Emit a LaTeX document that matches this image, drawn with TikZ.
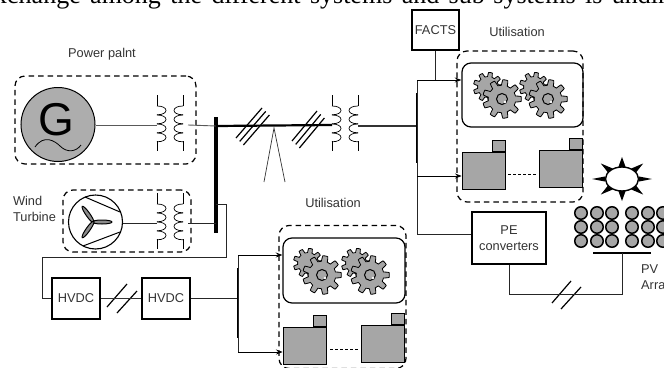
\documentclass[tikz,border=0pt]{standalone}
\usepackage{fontspec}
\setmainfont{Liberation Sans}
\newfontfamily\bodyserif{Liberation Serif}
\usetikzlibrary{shapes.geometric,arrows.meta,positioning,calc}

\begin{document}
\begin{tikzpicture}[
  x=1pt, y=-1pt,
  lbl/.style={font=\fontsize{12.8}{15.5}\selectfont, align=left, text=black!80, inner sep=0pt},
  group/.style={draw, dashed, dash pattern=on 5.5pt off 4pt, line width=1.2pt, rounded corners=10pt, inner sep=0pt},
  cogs/.style={draw, line width=1.2pt, rounded corners=9pt, inner sep=0pt},
  block/.style={draw, line width=1.1pt, font=\fontsize{12.8}{15.5}\selectfont, text=black!80, align=center, inner sep=0pt},
  loadbox/.style={draw, fill=black!35, line width=0.7pt, inner sep=0pt},
  busbar/.style={fill=black, inner sep=0pt, minimum width=#1},
  pvcell/.style={circle, draw, fill=black!35, line width=1.5pt, minimum size=12.5pt, inner sep=0pt},
  blade/.style={ellipse, draw, fill=black!45, line width=1pt, minimum width=20pt, minimum height=4pt, inner sep=0pt},
  wire/.style={line width=0.8pt, black!85},
  msg/.style={->, >=Stealth, line width=0.8pt},
  hatch/.style={line width=1.2pt},
  xformer/.pic={
    \coordinate (-in) at (-13,0);
    \coordinate (-out) at (18,0);
    \foreach \s/\c in {-13/12, 13/-12} {
      \draw[line width=0.7pt] (\s,-30) -- (\s,-19);
      \draw[line width=0.7pt] (\s,16) -- (\s,26);
      \foreach \k in {-19,-10,-1,8}
        \draw[line width=0.7pt] (\s,\k) .. controls (\s+\c,\k) and (\s+\c,\k+8.8) .. (\s,\k+8.8);
    }
  },
  gearwheel/.pic={
    \draw[fill=black!35, line width=0.8pt] plot[domain=0:360, samples=145] (\x:{#1+0.17*#1*min(1,max(-1,2.5*cos(9*\x)))}) -- cycle;
  },
  gearpair/.pic={
    \pic at (-14,-12) {gearwheel=12.5};
    \pic at (0,0) {gearwheel=16.5};
    \draw[fill=black!35, line width=1pt] (0,0) circle (5.5);
    \fill[white] (3,3) circle (1.4);
  }
]
\clip (0,0) rectangle (664,367);

% Cut-off line of running text
\node[font=\bodyserif\fontsize{26}{30}\selectfont, anchor=base west, inner sep=0pt] (runtext) at (-6,3.5) {\spaceskip=9.4pt xchange among the different systems and sub-systems is undin};

% Groups
\node[group, minimum width=181pt, minimum height=88pt] (plant) at (105.5,120) {};
\node[group, minimum width=128pt, minimum height=62pt] (wind) at (127,221) {};
\node[group, minimum width=126pt, minimum height=151pt] (useA) at (520,126.5) {};
\node[group, minimum width=127pt, minimum height=143pt] (useB) at (342.5,297) {};

% Labels
\node[lbl] (plantlbl) at (102,54) {Power palnt};
\node[lbl] (windlbl) at (34.5,209) {Wind\\Turbine};
\node[lbl] (useAlbl) at (517,32) {Utilisation};
\node[lbl] (useBlbl) at (333,203) {Utilisation};
\node[lbl, anchor=north west] (pvlbl) at (641,264.5) {PV\\Array};

% Generator
\node[circle, draw, fill=black!32, line width=1pt, minimum size=74pt, inner sep=0pt] (gen) at (58,124.5) {};
\node[font=\fontsize{46}{46}\selectfont, inner sep=0pt] (genG) at (56,120) {G};
\draw[line width=0.8pt] (35,147) .. controls (44,134) and (55,141) .. (60,146) .. controls (67,153) and (76,152) .. (81,145);

% Wind turbine
\node[circle, draw, line width=1.1pt, minimum size=54pt, inner sep=0pt] (turb) at (95.5,222) {};
\draw[line width=1pt] (85,197) -- (120,212);
\draw[line width=1pt] (83,246) -- (120,232);
\node[blade] (bladeA) at (102,222) {};
\node[blade, rotate=-55] (bladeB) at (88,214.5) {};
\node[blade, rotate=55] (bladeC) at (88,229.5) {};

% Transformers
\pic (xfA) at (170,125) {xformer};
\pic (xfB) at (170,223) {xformer};
\pic (xfC) at (345,125) {xformer};

% Busbars
\node[busbar=4pt, minimum height=116pt] (busA) at (216,175) {};
\node[busbar=2.2pt, minimum height=70pt] (busB) at (238,303) {};
\node[busbar=2.2pt, minimum height=70pt] (busC) at (417,128) {};
\node[busbar=58pt, minimum height=2pt] (pvbar) at (622,253) {};

% Boxes
\node[block, minimum width=47pt, minimum height=40pt] (facts) at (435.5,30) {FACTS};
\node[block, minimum width=48pt, minimum height=41pt] (hvdcA) at (76,298.5) {HVDC};
\node[block, minimum width=48pt, minimum height=41pt] (hvdcB) at (166,298.5) {HVDC};
\node[block, minimum width=74pt, minimum height=52pt] (pe) at (509,238) {PE\\converters};
\node[cogs, minimum width=121pt, minimum height=64pt] (cogsA) at (522.5,95) {};
\node[cogs, minimum width=122pt, minimum height=65pt] (cogsB) at (344,270.5) {};

% Gears
\pic at (502,99) {gearpair};
\pic at (548,99) {gearpair};
\pic at (322,275) {gearpair};
\pic at (370,275) {gearpair};

% Loads
\foreach \n/\lx/\ly in {A/483.5/170.5, B/561/168.5, C/304.5/345.5, D/382.5/343.5} {
  \node[loadbox, minimum width=43pt, minimum height=37pt] (load\n) at (\lx,\ly) {};
  \node[loadbox, minimum width=13pt, minimum height=11pt, anchor=south east] (cap\n) at (load\n.north east) {};
}
\coordinate (gapA) at (508,174);
\coordinate (gapB) at (537,174);
\coordinate (gapC) at (330,349);
\coordinate (gapD) at (358,349);
\draw[dashed, dash pattern=on 3pt off 2pt, line width=0.7pt] (gapA) -- (gapB);
\draw[dashed, dash pattern=on 3pt off 2pt, line width=0.7pt] (gapC) -- (gapD);

% Main line
\coordinate (busAmain) at (216,126);
\coordinate (busAwind) at (216,223);
\coordinate (busAtap) at (216,204);
\coordinate (xfCright) at (358,126);
\draw[line width=0.9pt, black!65] (gen.east |- xfA-in) -- (xfA-in);
\draw[line width=0.9pt, black!65] (xfA-out) -- (busAmain);
\draw[line width=2.2pt] (busAmain) -- (xfC-in);
\draw[wire] (turb.east |- xfB-in) -- (xfB-in);
\draw[wire] (xfB-out) -- (busAwind);
\draw[line width=1.6pt, black!80] (xfCright) -- (busC.west |- xfCright);

% Tower
\coordinate (towertop) at (274,128);
\coordinate (towerL) at (264,182);
\coordinate (towerR) at (285,182);
\draw[line width=0.7pt, black!80] (towerL) -- (towertop) -- (towerR);

% Hatches on lines
\foreach \dx/\dy in {0/0, 3.7/3.4, 7.4/7} {
  \draw[hatch] (236+\dx,138+\dy) -- (262+\dx,108+\dy);
  \draw[hatch] (292+\dx,141+\dy) -- (317+\dx,111+\dy);
}
\draw[hatch] (107,307) -- (127,284);
\draw[hatch] (117,313) -- (137,291);
\draw[hatch] (552,303) -- (571,281);
\draw[hatch] (561,309) -- (581,287);

% HVDC link
\coordinate (linkA) at (226,204);
\coordinate (linkB) at (226,257);
\coordinate (linkC) at (42,257);
\draw[wire] (busAtap) -- (linkA) -- (linkB) -- (linkC) |- (hvdcA.west);
\draw[line width=1.6pt, black!80] (hvdcA) -- (hvdcB);
\draw[wire] (hvdcB) -- (busB.west |- hvdcB.east);
\coordinate (feedC) at (238,255);
\coordinate (feedD) at (238,352);
\draw[wire] (feedC) -- (feedD);
\draw[msg] (feedC) -- (cogsB.west |- feedC);
\draw[msg] (feedD) -- (loadC.west |- feedD);

% Right side feeds
\coordinate (feedA) at (417,80);
\coordinate (feedB) at (417,176);
\coordinate (feedE) at (417,234);
\draw[wire] (feedA) -- (feedE) -- (pe.west |- feedE);
\draw[msg] (feedA) -- (cogsA.west |- feedA);
\draw[msg] (feedB) -- (loadA.west |- feedB);
\draw[line width=1.3pt, black!85] (facts) -- (facts.south |- feedA);

% PV array
\foreach \x in {581,597,612,632,648,663}
  \foreach \y in {213,227,241}
    \node[pvcell] (pv\x\y) at (\x,\y) {};
\coordinate (pvdrop) at (622,294);
\draw[wire] (pe.south) -- (pe.south |- pvdrop) -- (pvdrop) -- (pvbar.center);

% Sun
\foreach \a in {0,45,...,315}
  \fill ($(622,179)+(\a-12:17 and 12.5)$) -- ($(622,179)+(\a:30 and 22)$) -- ($(622,179)+(\a+12:17 and 12.5)$) -- cycle;
\node[ellipse, draw, fill=white, line width=1.4pt, minimum width=33pt, minimum height=24pt, inner sep=0pt] (sun) at (622,179) {};
\end{tikzpicture}
\end{document}
